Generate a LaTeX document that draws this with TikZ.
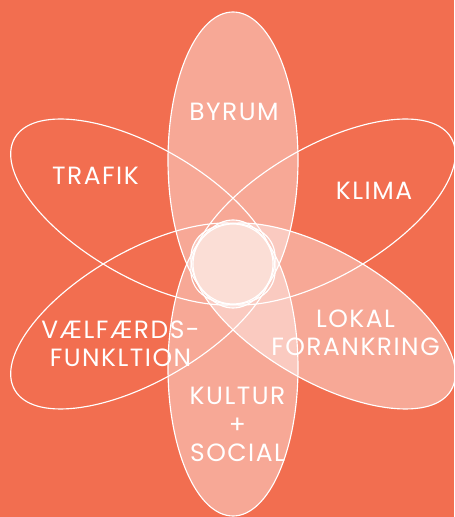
\documentclass[tikz,border=0pt]{standalone}
\usepackage{fontspec}
\setmainfont{Poppins}[LetterSpace=6]
\usepackage{xcolor}
\usepackage{tikz}
\usetikzlibrary{positioning}

\definecolor{bgorange}{RGB}{242,110,80}
\definecolor{kerne}{RGB}{251,222,214}

\begin{document}
\begin{tikzpicture}[x=0.02cm, y=0.02cm,
    petal/.style={draw=white, line width=0.65pt},
    petalfill/.style={petal, fill=white, fill opacity=0.4},
    lbl/.style={text=white, align=center, font=\fontsize{14.2}{16.2}\selectfont}]
    \useasboundingbox (0, 0) rectangle (454, 517);
    \clip (0, 0) rectangle (454, 517);
    \fill[bgorange] (0, 0) rectangle (454, 517);
    \coordinate (m) at (233, 253);

    % Blade
    \draw[petalfill] (m) ++(90:104) ellipse [x radius=148, y radius=65, rotate=90];
    \draw[petalfill] (m) ++(270:104) ellipse [x radius=148, y radius=65, rotate=270];
    \draw[petalfill] (m) ++(-30:104) ellipse [x radius=148, y radius=65, rotate=-30];
    \draw[petal] (m) ++(150:104) ellipse [x radius=148, y radius=65, rotate=150];
    \draw[petal] (m) ++(30:104) ellipse [x radius=148, y radius=65, rotate=30];
    \draw[petal] (m) ++(210:104) ellipse [x radius=148, y radius=65, rotate=210];

    % Kerne
    \draw[petal, fill=kerne] (m) circle [radius=40];

    % Tekster
    \node[lbl] (byrum) at (234, 405) {BYRUM};
    \node[lbl] (trafik) at (95.5, 341) {TRAFIK};
    \node[lbl] (klima) at (374, 326) {KLIMA};
    \node[lbl] (velfaerd) at (120.5, 173) {VÆLFÆRDS-\\FUNKLTION};
    \node[lbl] (lokal) at (355.5, 184) {LOKAL\\FORANKRING};
    \node[lbl] (kultur) at (237.5, 92.5) {KULTUR\\+\\SOCIAL};
\end{tikzpicture}
\end{document}
